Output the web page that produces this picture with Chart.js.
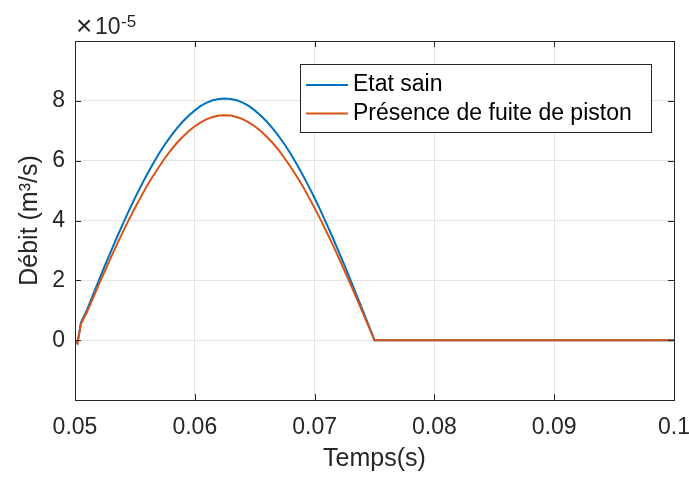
<!DOCTYPE html>
<html>
<head>
<meta charset="utf-8">
<script src="https://cdn.jsdelivr.net/npm/chart.js@4/dist/chart.umd.min.js"></script>
<style>
  html, body { margin: 0; padding: 0; background: #fff; }
  canvas { display: block; }
</style>
</head>
<body>
<canvas id="debitChart" width="689" height="478"></canvas>
<script>
// time samples (s)
const temps = [0.05, 0.0502, 0.0505,
               0.051, 0.0515, 0.052, 0.0525, 0.053, 0.0535, 0.054, 0.0545, 0.055, 0.0555,
               0.056, 0.0565, 0.057, 0.0575, 0.058, 0.0585, 0.059, 0.0595, 0.060, 0.0605,
               0.061, 0.0615, 0.062, 0.0625, 0.063, 0.0635, 0.064, 0.0645, 0.065, 0.0655,
               0.066, 0.0665, 0.067, 0.0675, 0.068, 0.0685, 0.069, 0.0695, 0.070, 0.0705,
               0.071, 0.0715, 0.072, 0.0725, 0.073, 0.0735, 0.074, 0.0745, 0.075, 0.1];

// flow rate, in units of 1e-5 m3/s
const etatSain = [-0.03, -0.11, 0.60,
                  1.01, 1.51, 2.01, 2.50, 2.97, 3.44, 3.89, 4.33, 4.75, 5.15,
                  5.53, 5.89, 6.23, 6.54, 6.82, 7.08, 7.31, 7.51, 7.68, 7.83,
                  7.94, 8.02, 8.06, 8.08, 8.06, 8.02, 7.94, 7.83, 7.68, 7.51,
                  7.31, 7.08, 6.82, 6.54, 6.23, 5.89, 5.53, 5.15, 4.75, 4.33,
                  3.89, 3.44, 2.97, 2.50, 2.01, 1.51, 1.01, 0.51, 0, 0];
const fuitePiston = [-0.03, -0.11, 0.55,
                     0.94, 1.41, 1.87, 2.32, 2.77, 3.20, 3.62, 4.03, 4.42, 4.79,
                     5.15, 5.48, 5.79, 6.08, 6.35, 6.59, 6.80, 6.99, 7.15, 7.28,
                     7.39, 7.46, 7.51, 7.52, 7.51, 7.46, 7.39, 7.28, 7.15, 6.99,
                     6.80, 6.59, 6.35, 6.08, 5.79, 5.48, 5.15, 4.79, 4.42, 4.03,
                     3.62, 3.20, 2.77, 2.32, 1.87, 1.41, 0.94, 0.47, 0, 0];

const seriesLabels = ['Etat sain', 'Présence de fuite de piston'];
const seriesColors = ['#0072BD', '#D95319'];

const xTicks = [0.05, 0.06, 0.07, 0.08, 0.09, 0.1];
const yTicks = [0, 2, 4, 6, 8];

const FONT = 'Liberation Sans, Arial, Helvetica, sans-serif';
const AXIS_COLOR = '#262626';

function toPoints(values) {
    return temps.map((t, i) => ({ x: t, y: values[i] }));
}

// MATLAB-like box, inner ticks, exponent and legend
const matlabAxes = {
    id: 'matlabAxes',
    afterDatasetsDraw(chart) {
        const { ctx, chartArea: a, scales } = chart;
        ctx.save();
        ctx.strokeStyle = AXIS_COLOR;
        ctx.lineWidth = 1;
        ctx.beginPath();
        xTicks.forEach(v => {
            const px = Math.round(scales.x.getPixelForValue(v)) + 0.5;
            ctx.moveTo(px, a.bottom); ctx.lineTo(px, a.bottom - 6);
            ctx.moveTo(px, a.top); ctx.lineTo(px, a.top + 6);
        });
        yTicks.forEach(v => {
            const py = Math.round(scales.y.getPixelForValue(v)) + 0.5;
            ctx.moveTo(a.left, py); ctx.lineTo(a.left + 6, py);
            ctx.moveTo(a.right, py); ctx.lineTo(a.right - 6, py);
        });
        ctx.stroke();
        ctx.strokeRect(Math.round(a.left) + 0.5, Math.round(a.top) + 0.5,
                       Math.round(a.right - a.left), Math.round(a.bottom - a.top));

        // exponent label
        ctx.fillStyle = AXIS_COLOR;
        ctx.textBaseline = 'alphabetic';
        ctx.textAlign = 'left';
        ctx.font = '28px ' + FONT;
        ctx.fillText('\u00d7', 76, 35);
        ctx.font = '23px ' + FONT;
        ctx.fillText('10', 95, 34);
        ctx.font = '17px ' + FONT;
        ctx.fillText('-5', 121, 27);

        // legend
        const lx = 300.5, ly = 64.5, lw = 351, lh = 68;
        ctx.fillStyle = '#fff';
        ctx.fillRect(lx, ly, lw, lh);
        ctx.strokeStyle = AXIS_COLOR;
        ctx.strokeRect(lx, ly, lw, lh);
        ctx.font = '23px ' + FONT;
        ctx.textBaseline = 'middle';
        seriesLabels.forEach((label, i) => {
            const y = 85 + i * 28.5;
            ctx.strokeStyle = seriesColors[i];
            ctx.lineWidth = 2;
            ctx.beginPath();
            ctx.moveTo(306, y); ctx.lineTo(348, y);
            ctx.stroke();
            ctx.fillStyle = '#000';
            ctx.fillText(label, 353, y);
        });
        ctx.restore();
    }
};

new Chart(document.getElementById('debitChart'), {
    type: 'line',
    data: {
        datasets: [
            {
                label: seriesLabels[0],
                data: toPoints(etatSain),
                borderColor: seriesColors[0],
                borderWidth: 2,
                pointRadius: 0,
                tension: 0,
                order: 1
            },
            {
                label: seriesLabels[1],
                data: toPoints(fuitePiston),
                borderColor: seriesColors[1],
                borderWidth: 2,
                pointRadius: 0,
                tension: 0,
                order: 0
            }
        ]
    },
    options: {
        responsive: false,
        animation: false,
        devicePixelRatio: 1,
        layout: { padding: { left: 0, right: 15, top: 41, bottom: 0 } },
        plugins: {
            legend: { display: false },
            tooltip: { enabled: false }
        },
        scales: {
            x: {
                type: 'linear',
                min: 0.05,
                max: 0.1,
                afterBuildTicks: (scale) => { scale.ticks = xTicks.map(v => ({ value: v })); },
                afterFit: (scale) => {
                    scale.height = 78;
                    scale.paddingLeft = 0;
                    scale.paddingRight = 0;
                },
                grid: { color: '#e3e3e3', drawTicks: false },
                border: { display: false },
                ticks: {
                    padding: 14,
                    color: AXIS_COLOR,
                    font: { family: FONT, size: 23 },
                    callback: (v) => String(parseFloat(Number(v).toFixed(2)))
                },
                title: {
                    display: true,
                    text: 'Temps(s)',
                    color: AXIS_COLOR,
                    font: { family: FONT, size: 25 },
                    padding: { top: 0, bottom: 4 }
                }
            },
            y: {
                type: 'linear',
                min: -2,
                max: 10,
                afterBuildTicks: (scale) => { scale.ticks = yTicks.map(v => ({ value: v })); },
                afterFit: (scale) => {
                    scale.width = 75;
                    scale.paddingTop = 0;
                    scale.paddingBottom = 0;
                },
                grid: { color: '#e3e3e3', drawTicks: false },
                border: { display: false },
                ticks: {
                    padding: 10,
                    color: AXIS_COLOR,
                    font: { family: FONT, size: 23 },
                    callback: (v) => String(v)
                },
                title: {
                    display: true,
                    text: 'Débit (m³/s)',
                    color: AXIS_COLOR,
                    font: { family: FONT, size: 25 },
                    padding: { top: 15, bottom: 0 }
                }
            }
        }
    },
    plugins: [matlabAxes]
});
</script>
</body>
</html>
